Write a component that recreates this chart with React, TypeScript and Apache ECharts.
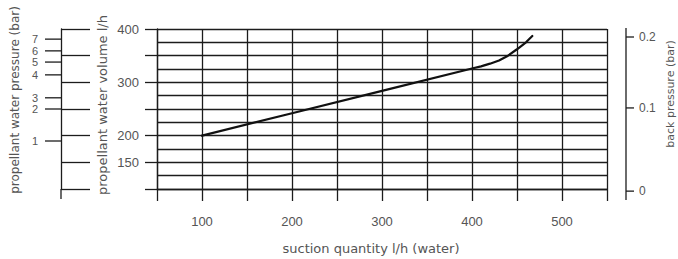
import React, { useEffect, useRef } from "react";
import * as echarts from "echarts";

// suction quantity l/h (water) vs propellant water volume l/h
const suctionQuantity = [100, 200, 300, 400, 410, 420, 430, 440, 450, 460, 467];
const propellantVolume = [200, 242, 284, 326, 330, 335, 341, 350, 362, 375, 387];

// x axis labels (l/h)
const xLabels = [100, 200, 300, 400, 500];
// volume axis labels (l/h)
const volumeLabels = [150, 200, 300, 400];

// propellant water pressure (bar) and the volume (l/h) it corresponds to
const pressureTicks = [1, 2, 3, 4, 5, 6, 7];
const pressureAtVolume = [190, 250, 271, 314, 338, 359, 381];

// back pressure (bar) and the volume level where its tick sits
const backPressureTicks = [0, 0.1, 0.2];
const backPressureAtVolume = [96, 252, 385];

const INK = "#1c1c1c";
const TEXT = "#555";
const NUM_FONT = "Liberation Sans";
const TITLE_FONT = "DejaVu Sans";

export default function App() {
  const ref = useRef<HTMLDivElement>(null);

  useEffect(() => {
    if (!ref.current) return;
    const chart = echarts.init(ref.current, null, { renderer: "svg" });

    const lineStyle = { color: INK, width: 1.3 };

    chart.setOption({
      animation: false,
      backgroundColor: "#fff",
      grid: { left: 157, right: 71, top: 29, bottom: 70 },
      xAxis: {
        type: "value",
        min: 50,
        max: 550,
        interval: 50,
        axisLine: { show: true, lineStyle },
        axisTick: { show: true, length: 12, lineStyle },
        splitLine: { show: true, lineStyle },
        axisLabel: {
          margin: 26,
          color: TEXT,
          fontSize: 13,
          fontFamily: NUM_FONT,
          formatter: (v: number) => (xLabels.includes(v) ? String(v) : ""),
        },
      },
      yAxis: [
        {
          type: "value",
          position: "left",
          min: 100,
          max: 400,
          interval: 50,
          axisLine: { show: true, lineStyle },
          axisTick: { show: true, length: 12, lineStyle },
          splitLine: { show: true, lineStyle },
          minorTick: { show: false, splitNumber: 2 },
          minorSplitLine: { show: true, lineStyle },
          axisLabel: {
            margin: 18,
            color: TEXT,
            fontSize: 13,
            fontFamily: NUM_FONT,
            formatter: (v: number) => (volumeLabels.includes(v) ? String(v) : ""),
          },
        },
        {
          type: "value",
          position: "left",
          offset: 96,
          min: 100,
          max: 400,
          interval: 50,
          axisLine: { show: true, lineStyle },
          axisTick: { show: true, inside: true, length: 29, lineStyle },
          splitLine: { show: false },
          axisLabel: { show: false },
        },
      ],
      graphic: [
        {
          type: "text",
          x: 15,
          y: 100,
          rotation: Math.PI / 2,
          style: {
            text: "propellant water pressure (bar)",
            fill: TEXT,
            fontSize: 12,
            fontFamily: TITLE_FONT,
            align: "center",
            verticalAlign: "middle",
          },
        },
        {
          type: "text",
          x: 102,
          y: 105,
          rotation: Math.PI / 2,
          style: {
            text: "propellant water volume l/h",
            fill: TEXT,
            fontSize: 13,
            fontFamily: TITLE_FONT,
            align: "center",
            verticalAlign: "middle",
          },
        },
        {
          type: "text",
          x: 670,
          y: 94,
          rotation: Math.PI / 2,
          style: {
            text: "back pressure (bar)",
            fill: TEXT,
            fontSize: 11,
            fontFamily: TITLE_FONT,
            align: "center",
            verticalAlign: "middle",
          },
        },
        {
          type: "text",
          x: 371,
          y: 248,
          style: {
            text: "suction quantity l/h (water)",
            fill: TEXT,
            fontSize: 13,
            fontFamily: TITLE_FONT,
            align: "center",
            verticalAlign: "middle",
          },
        },
      ],
      series: [
        {
          type: "line",
          data: suctionQuantity.map((x, i) => [x, propellantVolume[i]]),
          symbol: "none",
          smooth: false,
          lineStyle: { color: "#111", width: 2.2, join: "round", cap: "round" },
          z: 5,
        },
        {
          type: "custom",
          clip: false,
          silent: true,
          data: pressureTicks.map((p, i) => [50, pressureAtVolume[i], p]),
          renderItem: (params: any, api: any) => {
            const pt = api.coord([api.value(0), api.value(1)]);
            const gx = params.coordSys.x;
            const children: any[] = [
              {
                type: "line",
                shape: { x1: gx - 112, y1: pt[1], x2: gx - 96, y2: pt[1] },
                style: { stroke: INK, lineWidth: 1.3 },
              },
              {
                type: "text",
                x: gx - 119,
                y: pt[1],
                style: {
                  text: String(api.value(2)),
                  fill: TEXT,
                  fontSize: 11,
                  lineHeight: 10,
                  fontFamily: NUM_FONT,
                  align: "right",
                  verticalAlign: "middle",
                },
              },
            ];
            if (params.dataIndex === 0) {
              const bottom = api.coord([50, 100])[1];
              children.push({
                type: "line",
                shape: { x1: gx - 96, y1: bottom, x2: gx - 96, y2: bottom + 10 },
                style: { stroke: INK, lineWidth: 1.3 },
              });
            }
            return { type: "group", children };
          },
        },
        {
          type: "custom",
          clip: false,
          silent: true,
          data: backPressureTicks.map((b, i) => [550, backPressureAtVolume[i], b]),
          renderItem: (params: any, api: any) => {
            const pt = api.coord([api.value(0), api.value(1)]);
            const ax = params.coordSys.x + params.coordSys.width + 19;
            const children: any[] = [
              {
                type: "line",
                shape: { x1: ax, y1: pt[1], x2: ax + 8, y2: pt[1] },
                style: { stroke: INK, lineWidth: 1.3 },
              },
              {
                type: "text",
                x: ax + 13,
                y: pt[1],
                style: {
                  text: String(api.value(2)),
                  fill: TEXT,
                  fontSize: 12,
                  fontFamily: NUM_FONT,
                  align: "left",
                  verticalAlign: "middle",
                },
              },
            ];
            if (params.dataIndex === 0) {
              const top = api.coord([550, 400])[1];
              const bottom = api.coord([550, 100])[1];
              children.push({
                type: "line",
                shape: { x1: ax, y1: top - 1, x2: ax, y2: bottom + 11 },
                style: { stroke: INK, lineWidth: 1.3 },
              });
            }
            return { type: "group", children };
          },
        },
      ],
    });

    return () => chart.dispose();
  }, []);

  return (
    <div
      ref={ref}
      style={{ position: "absolute", left: 0, top: 0, width: 678, height: 259 }}
    />
  );
}
